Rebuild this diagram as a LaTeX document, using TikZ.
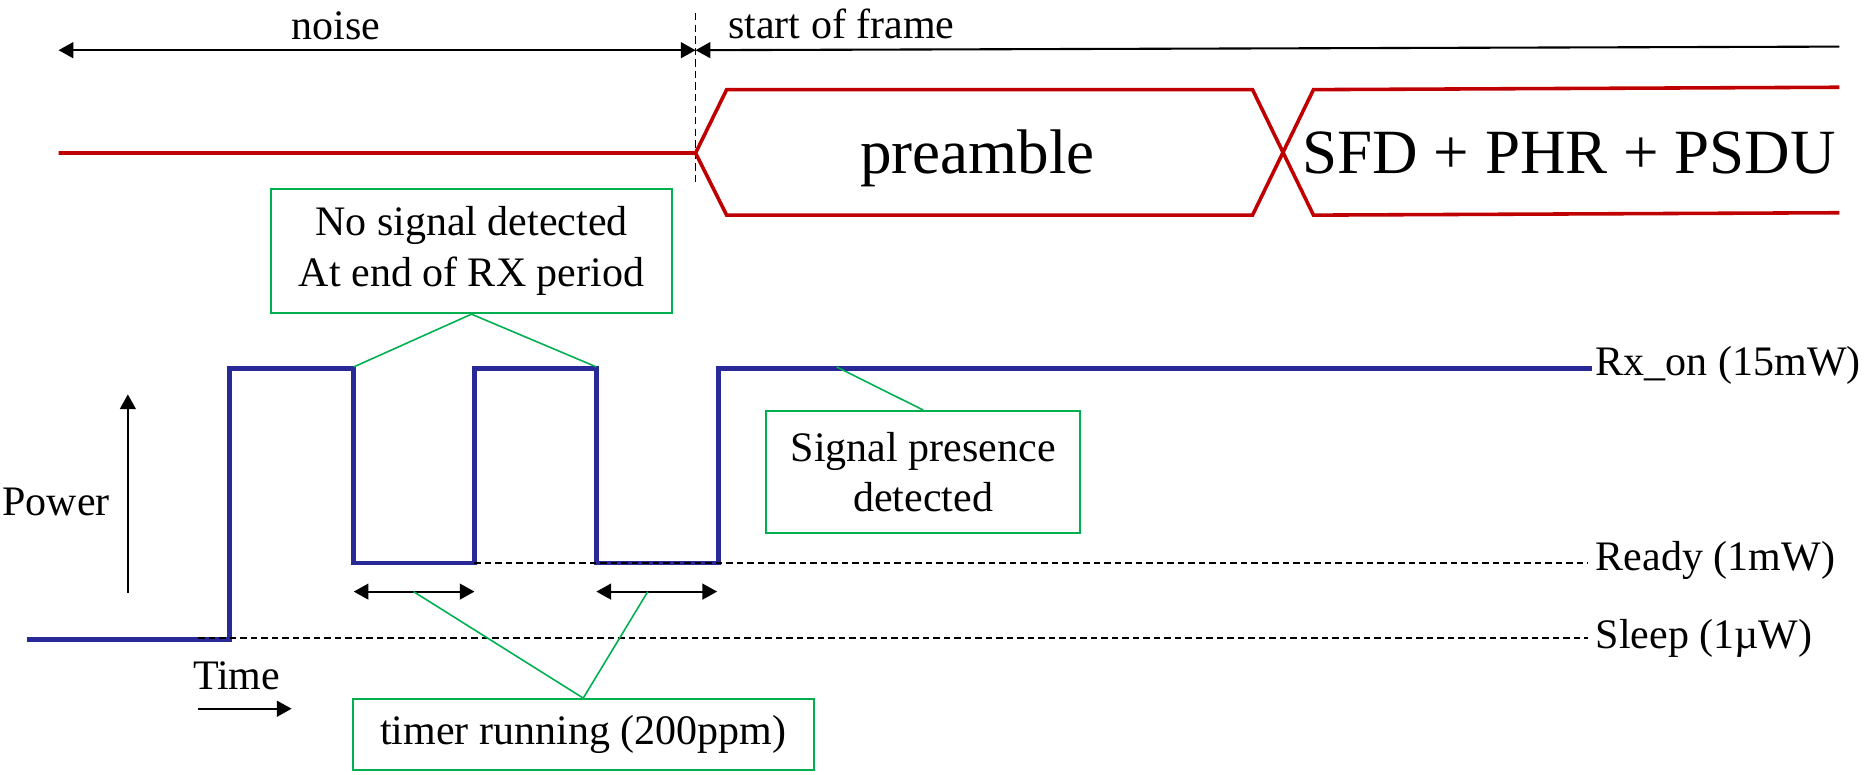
\documentclass[tikz,border=0pt]{standalone}
\usepackage{fontspec}
\setmainfont{Liberation Serif}
\usetikzlibrary{arrows.meta, positioning}
\definecolor{sigblue}{RGB}{40,40,150}
\definecolor{framered}{RGB}{192,0,0}
\definecolor{notegreen}{RGB}{0,176,80}

\begin{document}
\begin{tikzpicture}[x=0.02cm, y=-0.02cm, >={Triangle[length=7pt,width=7.5pt]},
  txt/.style={inner sep=0pt, font=\fontsize{20}{24}\selectfont},
  bigtxt/.style={inner sep=0pt, font=\fontsize{30}{36}\selectfont},
  note/.style={draw=notegreen, line width=1pt, align=center, inner sep=0pt,
               font=\fontsize{20}{24}\selectfont},
  lead/.style={notegreen, line width=0.75pt},
  level/.style={dash pattern=on 3pt off 2pt, line width=0.75pt}]
  \useasboundingbox (0,0) rectangle (1568,648);

  % Noise / start of frame
  \coordinate (nL) at (49,42);
  \coordinate (sof) at (582,42);
  \coordinate (sofR) at (1539,39);
  \draw[<->, line width=1pt] (nL) -- (sof);
  \draw[<-, line width=1pt] (sof) -- (sofR);
  \node[txt, anchor=base] (noise) at (281,33) {noise};
  \node[txt, anchor=base west] (start) at (609,32) {start of frame};
  \coordinate (cutT) at (582,11);
  \coordinate (cutB) at (582,152);
  \draw[dash pattern=on 3.5pt off 2pt, line width=0.7pt] (cutT) -- (cutB);

  % Frame
  \draw[framered, line width=1.7pt] (49,128) -- (582,128) -- (608,75) -- (1048,75)
    -- (1099,180) -- (1539,178);
  \draw[framered, line width=1.7pt] (582,128) -- (608,180) -- (1048,180)
    -- (1099,75) -- (1539,73);
  \node[bigtxt, anchor=base] (pre) at (818,145) {preamble};
  \node[bigtxt, anchor=base] (sfd) at (1313,145) {SFD + PHR + PSDU};

  % Power levels
  \coordinate (rdyA) at (397,471);
  \coordinate (rdyB) at (1329,471);
  \coordinate (slpA) at (166,534);
  \coordinate (slpB) at (1329,534);
  \draw[sigblue, line width=2.3pt] (23,535) -- (192,535) -- (192,308) -- (296,308)
    -- (296,471) -- (397,471) -- (397,308) -- (499,308) -- (499,471) -- (601,471)
    -- (601,308) -- (1332,308);
  \draw[level] (rdyA) -- (rdyB);
  \draw[level] (slpA) -- (slpB);
  \node[txt, anchor=base west] (rxon) at (1335,314) {Rx\_on (15mW)};
  \node[txt, anchor=base west] (ready) at (1335,477) {Ready (1mW)};
  \node[txt, anchor=base west] (sleep) at (1335,543) {Sleep (1µW)};

  % Axes
  \coordinate (pB) at (107,496);
  \coordinate (pT) at (107,330);
  \draw[->, line width=1pt] (pB) -- (pT);
  \node[txt, anchor=base] (power) at (47,431) {Power};
  \coordinate (tL) at (166,593);
  \coordinate (tR) at (244,593);
  \draw[->, line width=1pt] (tL) -- (tR);
  \node[txt, anchor=base] (time) at (198,577) {Time};

  % Timer periods
  \coordinate (w1L) at (296,495);
  \coordinate (w1R) at (397,495);
  \coordinate (w2L) at (499,495);
  \coordinate (w2R) at (600,495);
  \draw[<->, line width=1pt] (w1L) -- (w1R);
  \draw[<->, line width=1pt] (w2L) -- (w2R);

  % Notes
  \node[note, minimum width=6.7cm, minimum height=2.08cm] (nosig) at (394.5,210)
    {No signal detected\\At end of RX period};
  \coordinate (off1) at (296,307);
  \coordinate (off2) at (499,307);
  \draw[lead] (off1) -- (nosig.south) -- (off2);

  \node[note, minimum width=5.26cm, minimum height=2.04cm] (sigdet) at (772.5,395)
    {Signal presence\\detected};
  \coordinate (on3) at (700,307);
  \draw[lead] (sigdet.north) -- (on3);

  \node[note, minimum width=7.72cm, minimum height=1.18cm] (timer) at (488,614.5)
    {timer running (200ppm)};
  \coordinate (w1M) at (346,495);
  \coordinate (w2M) at (542,495);
  \draw[lead] (w1M) -- (timer.north) -- (w2M);
\end{tikzpicture}
\end{document}
